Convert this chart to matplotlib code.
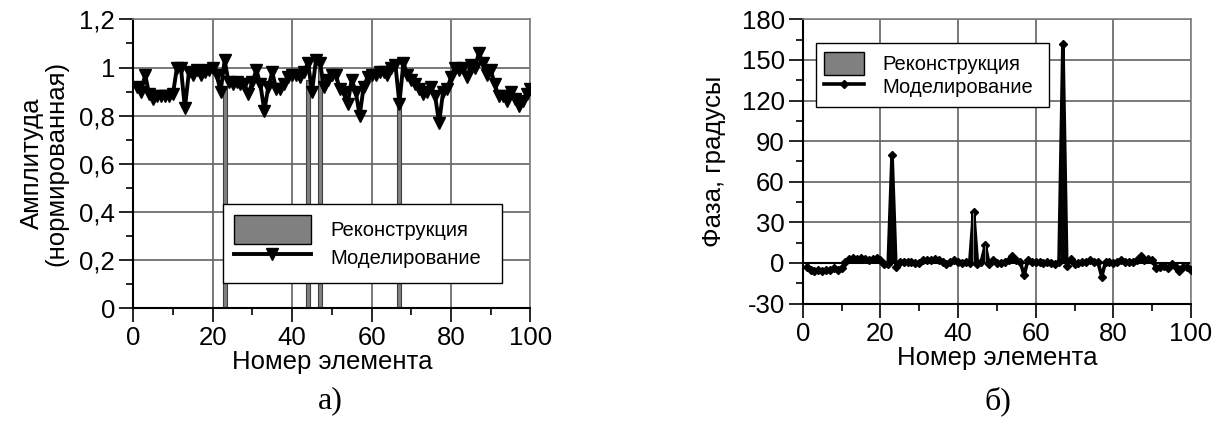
import matplotlib
matplotlib.use('Agg')
import matplotlib.pyplot as plt
from matplotlib.ticker import MultipleLocator
from matplotlib.patches import Patch
from matplotlib.lines import Line2D

# ---------------- data ----------------
elements = list(range(1, 101))

amp_model = [
    0.92, 0.90, 0.97, 0.89, 0.87, 0.88, 0.88, 0.88, 0.88, 0.89,
    1.00, 1.00, 0.83, 0.98, 0.97, 0.99, 0.97, 0.98, 0.99, 1.00,
    0.97, 0.90, 1.03, 0.94, 0.93, 0.94, 0.93, 0.93, 0.89, 0.94,
    0.99, 0.93, 0.82, 0.92, 0.98, 0.91, 0.91, 0.93, 0.96, 0.97,
    0.97, 0.96, 0.98, 1.02, 0.90, 1.03, 1.02, 0.92, 0.95, 0.97,
    0.97, 0.91, 0.90, 0.85, 0.95, 0.90, 0.80, 0.92, 0.96, 0.97,
    0.97, 0.98, 0.98, 0.97, 1.00, 1.01, 0.85, 1.02, 0.97, 0.95,
    0.93, 0.91, 0.89, 0.90, 0.92, 0.88, 0.77, 0.90, 0.91, 0.96,
    1.00, 0.99, 1.00, 0.96, 1.01, 1.00, 1.06, 1.02, 0.97, 0.99,
    0.93, 0.88, 0.88, 0.86, 0.90, 0.87, 0.84, 0.86, 0.89, 0.91,
]
amp_recon_elements = [23, 44, 47, 67]
amp_recon_values = [0.92, 0.95, 1.00, 0.84]

phase_model = [
    -3, -5, -6, -5, -6, -5, -5, -4, -5, -4,
    1, 3, 4, 3, 4, 3, 2, 3, 4, 2,
    -1, -1, 80, -3, 1, 1, 1, 1, 0, 0,
    2, 2, 2, 3, 2, 1, -1, 1, 2, 1,
    0, 1, 0, 38, -1, 1, 13, -1, 2, 0,
    0, 1, 2, 5, 2, 1, -9, 2, 1, 1,
    1, 0, 1, 0, -1, 1, 162, -2, 3, -1,
    0, 1, 1, 2, 1, 1, -10, 1, 1, 0,
    1, 2, 1, 1, 1, 2, 5, 2, 3, 2,
    -4, -3, -2, -4, -1, -3, -6, -3, -3, -5,
]
phase_recon_elements = [23, 44, 47, 67]
phase_recon_values = [80, 38, 13, 162]

amp_ticks = [0, 0.2, 0.4, 0.6, 0.8, 1.0, 1.2]
amp_tick_labels = ['0', '0,2', '0,4', '0,6', '0,8', '1', '1,2']
phase_ticks = [-30, 0, 30, 60, 90, 120, 150, 180]
phase_tick_labels = ['-30', '0', '30', '60', '90', '120', '150', '180']
x_ticks = [0, 20, 40, 60, 80, 100]
x_tick_labels = ['0', '20', '40', '60', '80', '100']

label_recon = 'Реконструкция'
label_model = 'Моделирование'

# ---------------- figure ----------------
plt.rcParams['font.family'] = ['Liberation Sans', 'DejaVu Sans']
fig = plt.figure(figsize=(12.28, 4.34), dpi=100)
ax1 = fig.add_axes([0.1085, 0.2903, 0.3235, 0.665])
ax2 = fig.add_axes([0.6537, 0.3005, 0.3162, 0.655])

GRID = '#626262'
BAR = '#808080'
TICKFS = 18.5
LABELFS = 18.5


def style_axes(ax, ymin, ymax, yminor, yticks, ylabels):
    ax.set_xlim(0, 100)
    ax.set_ylim(ymin, ymax)
    ax.set_xticks(x_ticks)
    ax.set_xticklabels(x_tick_labels)
    ax.set_yticks(yticks)
    ax.set_yticklabels(ylabels)
    ax.xaxis.set_minor_locator(MultipleLocator(10))
    ax.yaxis.set_minor_locator(MultipleLocator(yminor))
    ax.tick_params(which='major', direction='out', length=10, width=1.2,
                   labelsize=TICKFS, pad=3, color='black')
    ax.tick_params(which='minor', direction='out', length=5, width=1.2,
                   color='black')
    ax.grid(which='major', color=GRID, lw=1.2)
    ax.set_axisbelow(True)
    for s in ('top', 'right'):
        ax.spines[s].set_color('#808080')
        ax.spines[s].set_linewidth(1.2)
    for s in ('left', 'bottom'):
        ax.spines[s].set_color('black')
        ax.spines[s].set_linewidth(1.5)


# ----- left: amplitude -----
style_axes(ax1, 0, 1.2, 0.1, amp_ticks, amp_tick_labels)
ax1.bar(amp_recon_elements, amp_recon_values, width=1.0, color=BAR,
        edgecolor='#404040', linewidth=0.8, zorder=2)
ax1.plot(elements, amp_model, color='black', lw=2.8, marker='v',
         markersize=8, zorder=3)
ax1.set_xlabel('Номер элемента', fontsize=LABELFS, labelpad=0)
ax1.set_ylabel('Амплитуда\n(нормированная)', fontsize=LABELFS, labelpad=8,
               linespacing=1.0)
h1 = [Patch(facecolor=BAR, edgecolor='black', lw=1),
      Line2D([], [], color='black', lw=2.8, marker='v', markersize=8)]
leg1 = ax1.legend(h1, [label_recon, label_model], loc='upper left',
                  bbox_to_anchor=(0.226, 0.36, 0.703, 0.0), mode='expand',
                  borderaxespad=0, fontsize=14.5, handlelength=3.8,
                  handleheight=1.8, numpoints=1, labelspacing=0.0,
                  borderpad=0.55, handletextpad=1.0, fancybox=False,
                  framealpha=1, edgecolor='black')
leg1.get_frame().set_linewidth(1.0)

# ----- right: phase -----
style_axes(ax2, -30, 180, 15, phase_ticks, phase_tick_labels)
ax2.axhline(0, color='black', lw=1.5, zorder=1.5)
ax2.plot(elements, phase_model, color='black', lw=2.6, marker='D',
         markersize=4.5, zorder=3)
ax2.bar(phase_recon_elements, phase_recon_values, width=0.7, color=BAR,
        edgecolor='black', linewidth=1.4, zorder=4)
ax2.set_xlabel('Номер элемента', fontsize=LABELFS, labelpad=0)
ax2.set_ylabel('Фаза, градусы', fontsize=LABELFS, labelpad=11)
h2 = [Patch(facecolor=BAR, edgecolor='black', lw=1),
      Line2D([], [], color='black', lw=2.6, marker='D', markersize=4.5)]
leg2 = ax2.legend(h2, [label_recon, label_model], loc='upper left',
                  bbox_to_anchor=(0.0335, 0.9156, 0.60, 0.0), mode='expand',
                  borderaxespad=0, fontsize=14.5, handlelength=2.0,
                  handleheight=1.4, numpoints=1, labelspacing=0.0,
                  borderpad=0.42, handletextpad=0.9, fancybox=False,
                  framealpha=1, edgecolor='black')
leg2.get_frame().set_linewidth(1.0)

fig.text(0.269, 0.076, 'а)', fontsize=23, family=['Liberation Serif'],
         ha='center', va='center')
fig.text(0.8127, 0.076, 'б)', fontsize=23, family=['Liberation Serif'],
         ha='center', va='center')

fig.savefig('out.png', dpi=100)
